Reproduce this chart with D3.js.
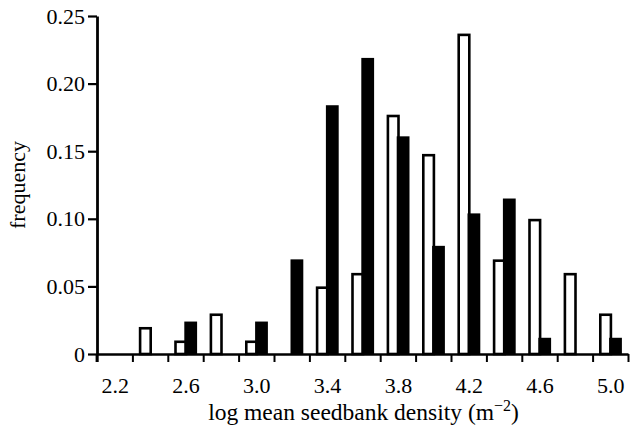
<!DOCTYPE html>
<html>
<head>
    <meta charset="UTF-8">
    <style>
        body { margin: 0; background: white; }
        svg { display: block; }
        text { font-family: "Liberation Serif", "Times New Roman", serif; fill: black; }
    </style>
</head>
<body>
    <svg></svg>
    <script src="https://d3js.org/d3.v7.min.js"></script>
    <script>
        let width = 631, height = 436;

        // bin centres (log mean seedbank density), bins 0.2 wide
        const binCentres = [2.2, 2.4, 2.6, 2.8, 3.0, 3.2, 3.4, 3.6, 3.8, 4.0, 4.2, 4.4, 4.6, 4.8, 5.0];
        // open bars
        const openFreq = [0, 0.02, 0.01, 0.03, 0.01, 0, 0.05, 0.06, 0.177, 0.148, 0.237, 0.07, 0.10, 0.06, 0.03];
        // filled bars
        const filledFreq = [0, 0, 0.024, 0, 0.024, 0.07, 0.184, 0.219, 0.161, 0.08, 0.104, 0.115, 0.012, 0, 0.012];
        // bin edges drawn as x ticks
        const binEdges = [2.1, 2.3, 2.5, 2.7, 2.9, 3.1, 3.3, 3.5, 3.7, 3.9, 4.1, 4.3, 4.5, 4.7, 4.9, 5.1];
        const xLabels = [2.2, 2.6, 3.0, 3.4, 3.8, 4.2, 4.6, 5.0];
        const yTicks = [0, 0.05, 0.10, 0.15, 0.20, 0.25];

        const serif = "'Liberation Serif', 'Times New Roman', serif";

        let svg = d3.select("svg")
            .attr("width", width)
            .attr("height", height);

        let x = d3.scaleLinear().domain([2.1, 5.1]).range([97, 628]);
        let y = d3.scaleLinear().domain([0, 0.25]).range([354, 16]);

        let stroke = 2.6;
        let openData = binCentres.map((c, i) => ({ c: c, v: openFreq[i] })).filter(d => d.v > 0);
        let filledData = binCentres.map((c, i) => ({ c: c, v: filledFreq[i] })).filter(d => d.v > 0);

        // open bars (left of bin centre)
        svg.append("g")
            .selectAll("rect")
            .data(openData)
            .enter()
            .append("rect")
            .attr("x", d => x(d.c) - 10)
            .attr("width", 10.6)
            .attr("y", d => y(d.v) + stroke / 2)
            .attr("height", d => y(0) - y(d.v) - stroke / 2)
            .attr("fill", "white")
            .attr("stroke", "black")
            .attr("stroke-width", stroke);

        // filled bars (right of bin centre)
        svg.append("g")
            .selectAll("rect")
            .data(filledData)
            .enter()
            .append("rect")
            .attr("x", d => x(d.c) - 1.2)
            .attr("width", 12.8)
            .attr("y", d => y(d.v))
            .attr("height", d => y(0) - y(d.v))
            .attr("fill", "black");

        // x axis: edge ticks
        let xAxis = svg.append("g")
            .attr("transform", "translate(0," + y(0) + ")")
            .call(d3.axisBottom(x).tickValues(binEdges).tickFormat("").tickSize(8).tickSizeOuter(0));
        xAxis.select(".domain").attr("stroke-width", 2.6);
        xAxis.selectAll(".tick line").attr("stroke-width", 2);

        // x axis: labels at bin centres
        let xLab = svg.append("g")
            .attr("transform", "translate(0," + y(0) + ")")
            .attr("font-family", serif)
            .attr("font-size", 22)
            .call(d3.axisBottom(x).tickValues(xLabels).tickFormat(d3.format(".1f")).tickSize(0).tickPadding(23));
        xLab.select(".domain").remove();
        xLab.attr("font-family", serif).attr("font-size", 22);

        // y axis
        let yAxis = svg.append("g")
            .attr("transform", "translate(" + x(2.1) + ",0)")
            .call(d3.axisLeft(y).tickValues(yTicks)
                .tickFormat(d => d === 0 ? "0" : d3.format(".2f")(d))
                .tickSize(9).tickPadding(3).tickSizeOuter(0));
        yAxis.attr("font-family", serif).attr("font-size", 22);
        yAxis.select(".domain").attr("stroke-width", 2.8);
        yAxis.selectAll(".tick line").attr("stroke-width", 2.2);

        // extend y axis to meet the first x tick
        svg.append("line")
            .attr("x1", x(2.1)).attr("x2", x(2.1))
            .attr("y1", y(0)).attr("y2", y(0) + 8)
            .attr("stroke", "black").attr("stroke-width", 2.8);

        // axis titles
        svg.append("text")
            .attr("transform", "translate(25," + ((y(0) + y(0.25)) / 2) + ") rotate(-90)")
            .attr("text-anchor", "middle")
            .style("font-size", "22px")
            .text("frequency");

        let xt = svg.append("text")
            .attr("x", (x(2.1) + x(5.1)) / 2 + 1)
            .attr("y", 420)
            .attr("text-anchor", "middle")
            .style("font-size", "23.5px");
        xt.append("tspan").text("log mean seedbank density (m");
        xt.append("tspan").attr("dy", -9).style("font-size", "16px").text("\u22122");
        xt.append("tspan").attr("dy", 9).text(")");
    </script>
</body>
</html>
